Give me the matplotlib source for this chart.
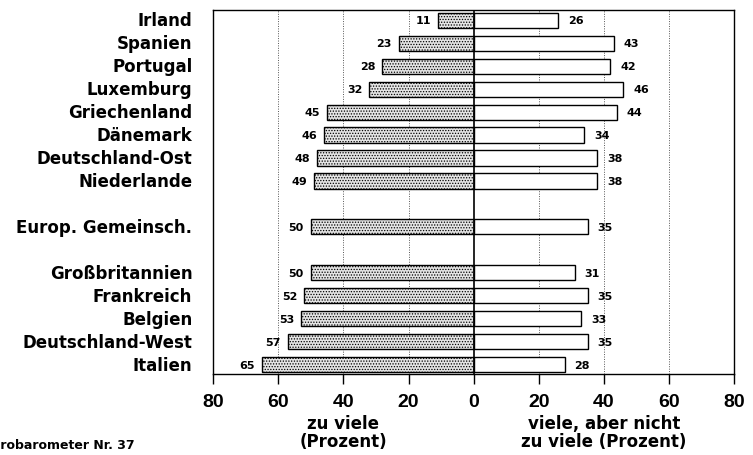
import matplotlib.pyplot as plt
import numpy as np

plt.rcParams['font.family'] = ['Liberation Sans', 'DejaVu Sans']
plt.rcParams['hatch.color'] = '#8a8a8a'
plt.rcParams['hatch.linewidth'] = 0.6

# Länder (von oben nach unten), None = Leerzeile
laender = ["Irland", "Spanien", "Portugal", "Luxemburg", "Griechenland",
           "Dänemark", "Deutschland-Ost", "Niederlande", None,
           "Europ. Gemeinsch.", None,
           "Großbritannien", "Frankreich", "Belgien", "Deutschland-West",
           "Italien"]
zu_viele = [11, 23, 28, 32, 45, 46, 48, 49, None, 50, None, 50, 52, 53, 57, 65]
nicht_zu_viele = [26, 43, 42, 46, 44, 34, 38, 38, None, 35, None, 31, 35, 33, 35, 28]

ticks = [-80, -60, -40, -20, 0, 20, 40, 60, 80]
tick_labels = ["80", "60", "40", "20", "0", "20", "40", "60", "80"]

breit = ['DejaVu Sans']

fig = plt.figure(figsize=(7.53, 4.56), dpi=100)
ax = fig.add_axes([0.283, 0.178, 0.692, 0.798])

for i, (land, l, r) in enumerate(zip(laender, zu_viele, nicht_zu_viele)):
    if land is None:
        continue
    ax.barh(i, -l, height=0.66, facecolor='#e4e4e4', edgecolor='black',
            linewidth=1.0, hatch='......', zorder=3)
    ax.barh(i, r, height=0.66, facecolor='white', edgecolor='black',
            linewidth=1.0, zorder=3)
    ax.annotate(str(l), (-l, i), xytext=(-5, 0), textcoords='offset points',
                ha='right', va='center', fontsize=8, fontweight='bold', family=breit)
    ax.annotate(str(r), (r, i), xytext=(7, 0), textcoords='offset points',
                ha='left', va='center', fontsize=8, fontweight='bold', family=breit)
    # Ländername links neben der Achse
    ax.text(-0.04, i, land, transform=ax.get_yaxis_transform(),
            ha='right', va='center', fontsize=12, fontweight='bold', family=breit)

for g in [-60, -40, -20, 20, 40, 60]:
    ax.axvline(g, color='#555555', linestyle=(0, (1, 1.5)), linewidth=0.7, zorder=1)
ax.axvline(0, color='black', linewidth=1.2, zorder=4)

ax.set_xlim(-80, 80)
ax.set_ylim(len(laender) - 0.6, -0.45)
ax.set_yticks([])
ax.set_xticks(ticks)
ax.set_xticklabels(tick_labels, fontsize=14, fontweight='bold')
ax.tick_params(axis='x', direction='out', length=7, width=1.0, pad=7)
for s in ax.spines.values():
    s.set_linewidth(1.0)

fig.text(343 / 753, 1 - 415 / 456, "zu viele\n(Prozent)", ha='center', va='top',
         fontsize=12, fontweight='bold', family=breit, linespacing=1.0)
fig.text(604 / 753, 1 - 415 / 456, "viele, aber nicht\nzu viele (Prozent)",
         ha='center', va='top', fontsize=12, fontweight='bold', family=breit,
         linespacing=1.0)
fig.text(-17 / 753, 1 - 446 / 456, "Eurobarometer Nr. 37", ha='left', va='center',
         fontsize=9, fontweight='bold', family=breit)

fig.savefig("out.png", dpi=100)
